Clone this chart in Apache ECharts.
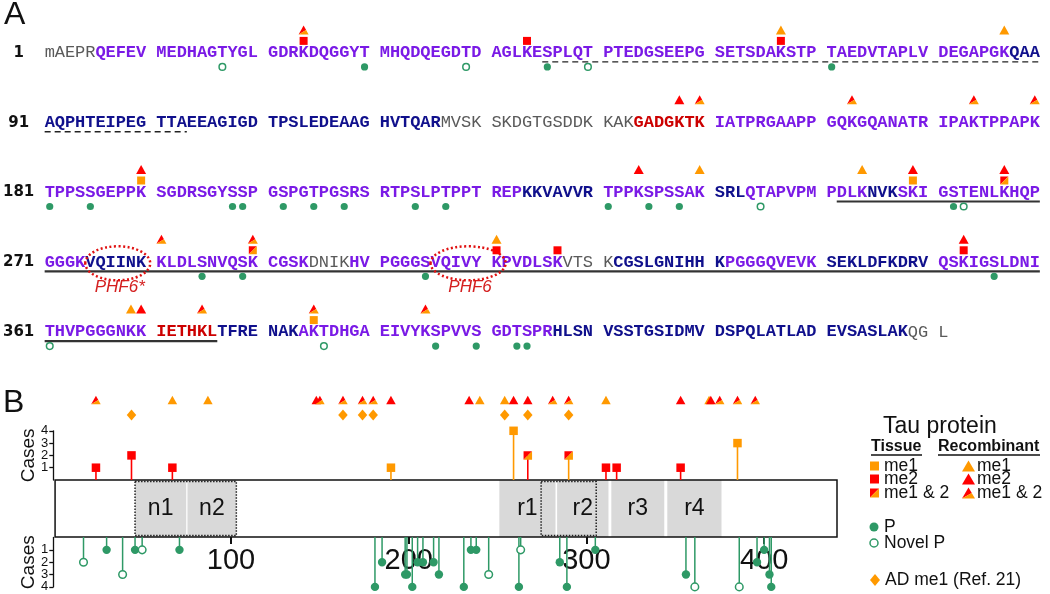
<!DOCTYPE html>
<html>
<head>
<meta charset="utf-8">
<script src="https://cdn.jsdelivr.net/npm/echarts@6/dist/echarts.min.js"></script>
<style>
  html, body { margin: 0; padding: 0; background: #fff; }
  #chart { width: 1050px; height: 594px; }
</style>
</head>
<body>
<div id="chart"></div>
<script>
// ---- data ----
const lineStarts = ['1', '91', '181', '271', '361'];
const tauRows = [
  'mAEPRQEFEV MEDHAGTYGL GDRKDQGGYT MHQDQEGDTD AGLKESPLQT PTEDGSEEPG SETSDAKSTP TAEDVTAPLV DEGAPGKQAA',
  'AQPHTEIPEG TTAEEAGIGD TPSLEDEAAG HVTQARMVSK SKDGTGSDDK KAKGADGKTK IATPRGAAPP GQKGQANATR IPAKTPPAPK',
  'TPPSSGEPPK SGDRSGYSSP GSPGTPGSRS RTPSLPTPPT REPKKVAVVR TPPKSPSSAK SRLQTAPVPM PDLKNVKSKI GSTENLKHQP',
  'GGGKVQIINK KLDLSNVQSK CGSKDNIKHV PGGGSVQIVY KPVDLSKVTS KCGSLGNIHH KPGGGQVEVK SEKLDFKDRV QSKIGSLDNI',
  'THVPGGGNKK IETHKLTFRE NAKAKTDHGA EIVYKSPVVS GDTSPRHLSN VSSTGSIDMV DSPQLATLAD EVSASLAKQG L'
];
const tauSequence = tauRows.join('').replace(/ /g, '');

// residue colour runs (everything else purple)
const grayRuns = [[1, 5], [127, 143], [295, 298], [318, 321], [439, 441]];
const navyRuns = [[88, 126], [224, 230], [241, 243], [255, 257], [275, 280], [322, 331], [341, 350], [377, 383], [407, 438]];
const redRuns = [[144, 150], [371, 376]];
const dashedRuns = [[46, 103]];
const solidRuns = [[252, 376]];
const motifNames = ['PHF6*', 'PHF6'];
const motifFrom = [275, 306];
const motifTo = [280, 311];

// tissue methylation (lollipops above)
const tissueSites = [24, 44, 67, 190, 259, 267, 290, 311, 317, 353, 385];
const tissueTypes = ['me2', 'me2', 'me2', 'me1', 'me1', 'both', 'both', 'me2', 'me2', 'me2', 'me1'];
const tissueStemTypes = ['me2', 'me2', 'me2', 'me1', 'me1', 'me2', 'me1', 'me2', 'me2', 'me2', 'me1'];
const tissueCases = [1, 2, 1, 1, 4, 2, 2, 1, 1, 1, 3];

// recombinant methylation (triangles)
const recombSites = [24, 67, 87, 148, 150, 163, 174, 180, 190, 234, 240, 254, 259, 267, 281, 290, 311, 353, 369, 370, 375, 385, 395];
const recombTypes = ['both', 'me1', 'me1', 'me2', 'both', 'both', 'both', 'both', 'me2', 'me2', 'me1', 'me1', 'me2', 'me2',
  'both', 'both', 'me1', 'me2', 'me1', 'me2', 'both', 'both', 'both'];

// AD me1 (Ref. 21)
const adSites = [44, 163, 174, 180, 254, 267, 290];

// phosphorylation (lollipops below)
const phosphoSites = [17, 30, 39, 46, 50, 71, 181, 185, 198, 199, 202, 205, 208, 214, 217, 231, 235, 238, 245,
  262, 263, 285, 289, 305, 356, 361, 386, 396, 400, 403, 404];
const phosphoCases = [2, 1, 3, 1, 1, 1, 4, 2, 3, 3, 4, 2, 2, 2, 3, 4, 1, 1, 3, 4, 1, 2, 4, 1, 3, 4, 4, 2, 1, 3, 4];
const phosphoNovel = [17, 39, 50, 245, 263, 361, 386];

// domains in panel B
const domainNames = ['n1', 'n2', 'r1', 'r2', 'r3', 'r4'];
const domainStart = [46, 75.5, 251, 283.5, 314, 345.5];
const domainEnd = [74.8, 103, 282.6, 312.4, 343.8, 376];
const splicedStart = [46, 274.5];
const splicedEnd = [103, 305.5];
const proteinLength = 441;
const residueTicks = [100, 200, 300, 400];
const caseTicks = [1, 2, 3, 4];

// ---- helpers ----
const C = { orange: '#ff9900', red: '#ff0000', green: '#2e9966' };
const textColors = { purple: '#7a1ae6', navy: '#10108c', red: '#cc0000', gray: '#5a5a5a' };

const inRuns = (r, runs) => runs.some(([a, b]) => r >= a && r <= b);
function residueClass(r) {
  if (inRuns(r, grayRuns)) return 'gray';
  if (inRuns(r, redRuns)) return 'red';
  if (inRuns(r, navyRuns)) return 'navy';
  return 'purple';
}
const rowOf = r => Math.floor((r - 1) / 90);
function slotOf(r) {
  const col = (r - 1) % 90;
  return Math.floor(col / 10) * 11 + col % 10;
}
function rowSegments(from, to) {
  const segs = [];
  for (let row = rowOf(from); row <= rowOf(to); row++) {
    const a = Math.max(from, row * 90 + 1), b = Math.min(to, row * 90 + 90);
    segs.push([slotOf(a), slotOf(b) + 1, row]);
  }
  return segs;
}

const poly = (pts, fill) => ({ type: 'polygon', shape: { points: pts }, style: { fill: fill } });
function squareEls(type, x, y, s) {
  const h = s / 2;
  if (type === 'both') {
    return [poly([[x - h, y - h], [x + h, y - h], [x - h, y + h]], C.red),
            poly([[x + h, y - h], [x + h, y + h], [x - h, y + h]], C.orange)];
  }
  return [{ type: 'rect', shape: { x: x - h, y: y - h, width: s, height: s }, style: { fill: type === 'me1' ? C.orange : C.red } }];
}
function triangleEls(type, x, y, w, h) {
  const top = [x, y - h / 2], bl = [x - w / 2, y + h / 2], br = [x + w / 2, y + h / 2];
  if (type === 'both') {
    const mid = [x + w / 4, y];
    return [poly([top, bl, mid], C.red), poly([bl, br, mid], C.orange)];
  }
  return [poly([top, bl, br], type === 'me1' ? C.orange : C.red)];
}
const diamondEls = (x, y, w, h) => [poly([[x, y - h / 2], [x + w / 2, y], [x, y + h / 2], [x - w / 2, y]], C.orange)];
function dotEls(open, x, y, r) {
  return [{ type: 'circle', shape: { cx: x, cy: y, r: r },
    style: open ? { fill: '#fff', stroke: C.green, lineWidth: 1.5 } : { fill: C.green } }];
}

// marks for the sequence panel
const seqMarks = [];
tissueSites.forEach((r, i) => seqMarks.push({ r, kind: 'sq', type: tissueTypes[i], dy: -12 }));
recombSites.forEach((r, i) => seqMarks.push({ r, kind: 'tri', type: recombTypes[i], dy: -23 }));
phosphoSites.forEach(r => seqMarks.push({ r, kind: 'dot', open: phosphoNovel.includes(r), dy: 14 }));

const underlineSegs = [];
dashedRuns.forEach(([a, b]) => rowSegments(a, b).forEach(s => underlineSegs.push(s.concat(1))));
solidRuns.forEach(([a, b]) => rowSegments(a, b).forEach(s => underlineSegs.push(s.concat(0))));

// ---- chart ----
const chart = echarts.init(document.getElementById('chart'));
const FONT = '"Liberation Sans", Arial, sans-serif';
const gridB = { left: 53.3, width: 783.7 };
const caseAxis = (grid, inverse) => ({
  gridIndex: grid, type: 'value', min: 0, max: 4, interval: 1, inverse: inverse,
  axisLine: { show: true, lineStyle: { color: '#111', width: 1.3 } },
  axisTick: { show: true, length: 4, customValues: caseTicks, lineStyle: { color: '#111', width: 1.3 } },
  axisLabel: { show: false },
  splitLine: { show: false },
  name: 'Cases', nameLocation: 'middle', nameRotate: 90, nameGap: 15,
  nameTextStyle: { fontSize: 19, fontFamily: FONT, color: '#111' }
});
// the case numbers sit 12px apart, too tight for axisLabel (it drops some), so a tiny series writes them
const caseLabels = grid => ({
  type: 'custom', xAxisIndex: grid, yAxisIndex: grid, silent: true, clip: false,
  data: caseTicks.map(v => [0, v]),
  renderItem: (params, api) => {
    const p = api.coord([api.value(0), api.value(1)]);
    return { type: 'text', x: p[0] - 5, y: p[1],
      style: { text: String(api.value(1)), font: '13px ' + FONT, fill: '#111', align: 'right', verticalAlign: 'middle' } };
  }
});
const hiddenX = (grid, max) => ({ gridIndex: grid, type: 'value', min: 0, max: max, show: false });

const legend = [];
legend.push({ type: 'text', x: 883, y: 427, style: { text: 'Tau protein', font: '23px ' + FONT, fill: '#111', verticalAlign: 'middle' } });
legend.push({ type: 'text', x: 871, y: 447, style: { text: 'Tissue', font: 'bold 16px ' + FONT, fill: '#111', verticalAlign: 'middle' } });
legend.push({ type: 'text', x: 938, y: 447, style: { text: 'Recombinant', font: 'bold 16px ' + FONT, fill: '#111', verticalAlign: 'middle' } });
legend.push({ type: 'line', shape: { x1: 871, y1: 455, x2: 922, y2: 455 }, style: { stroke: '#111', lineWidth: 1.5 } });
legend.push({ type: 'line', shape: { x1: 938, y1: 455, x2: 1040, y2: 455 }, style: { stroke: '#111', lineWidth: 1.5 } });
[['me1', 'me1', 466], ['me2', 'me2', 479], ['both', 'me1 & 2', 493]].forEach(([t, label, y]) => {
  squareEls(t, 874.5, y, 9).forEach(e => legend.push(e));
  triangleEls(t, 968.5, y, 13, 11).forEach(e => legend.push(e));
  legend.push({ type: 'text', x: 884, y: y, style: { text: label, font: '17.5px ' + FONT, fill: '#111', verticalAlign: 'middle' } });
  legend.push({ type: 'text', x: 977, y: y, style: { text: label, font: '17.5px ' + FONT, fill: '#111', verticalAlign: 'middle' } });
});
dotEls(false, 874, 527, 4.5).forEach(e => legend.push(e));
dotEls(true, 874, 543, 4).forEach(e => legend.push(e));
diamondEls(875, 580, 10, 12).forEach(e => legend.push(e));
legend.push({ type: 'text', x: 884, y: 527, style: { text: 'P', font: '17.5px ' + FONT, fill: '#111', verticalAlign: 'middle' } });
legend.push({ type: 'text', x: 884, y: 543, style: { text: 'Novel P', font: '17.5px ' + FONT, fill: '#111', verticalAlign: 'middle' } });
legend.push({ type: 'text', x: 885, y: 580, style: { text: 'AD me1 (Ref. 21)', font: '17.5px ' + FONT, fill: '#111', verticalAlign: 'middle' } });
legend.push({ type: 'text', x: 4, y: 15, style: { text: 'A', font: '32px ' + FONT, fill: '#111', verticalAlign: 'middle' } });
legend.push({ type: 'text', x: 3, y: 403, style: { text: 'B', font: '32px ' + FONT, fill: '#111', verticalAlign: 'middle' } });

const option = {
  animation: false,
  grid: [
    { left: 43, top: 18, width: 1013, height: 349 },                 // A: sequence
    { left: gridB.left, width: gridB.width, top: 430.8, height: 49.2 }, // tissue cases
    { left: gridB.left, width: gridB.width, top: 480, height: 57 },     // protein box
    { left: gridB.left, width: gridB.width, top: 537.5, height: 49.4 }, // phospho cases
    { left: gridB.left, width: gridB.width, top: 400, height: 15 }      // recombinant / AD rows
  ],
  xAxis: [
    hiddenX(0, 99),
    hiddenX(1, proteinLength),
    {
      gridIndex: 2, type: 'value', min: 0, max: proteinLength, interval: 100,
      axisLine: { show: false }, splitLine: { show: false },
      axisTick: { show: true, customValues: residueTicks, length: 7, lineStyle: { color: '#111', width: 2 } },
      axisLabel: { customValues: residueTicks, margin: 9, fontSize: 29, fontFamily: FONT, color: '#111' }
    },
    hiddenX(3, proteinLength),
    hiddenX(4, proteinLength)
  ],
  yAxis: [
    {
      gridIndex: 0, type: 'category', data: lineStarts, inverse: true,
      axisLine: { show: false }, axisTick: { show: false },
      axisLabel: { margin: 26, align: 'center', fontWeight: 'bold', fontSize: 15, fontFamily: '"DejaVu Sans", sans-serif', color: '#111' }
    },
    caseAxis(1, false),
    { gridIndex: 2, type: 'value', min: 0, max: 1, show: false },
    caseAxis(3, true),
    { gridIndex: 4, type: 'value', min: 0, max: 1, show: false }
  ],
  graphic: { elements: legend },
  series: [
    // sequence letters
    {
      type: 'custom', xAxisIndex: 0, yAxisIndex: 0, silent: true,
      data: tauSequence.split('').map((ch, i) => [slotOf(i + 1) + 0.5, rowOf(i + 1), i + 1]),
      renderItem: (params, api) => {
        const p = api.coord([api.value(0), api.value(1)]);
        const r = api.value(2);
        const cls = residueClass(r);
        return {
          type: 'text', x: p[0], y: p[1],
          style: {
            text: tauSequence[r - 1], fill: textColors[cls],
            font: (cls === 'gray' ? '' : 'bold ') + '17px "Liberation Mono", monospace',
            align: 'center', verticalAlign: 'middle'
          }
        };
      }
    },
    // underlines (dashed: N-terminal inserts, solid: repeats)
    {
      type: 'custom', xAxisIndex: 0, yAxisIndex: 0, silent: true,
      data: underlineSegs,
      renderItem: (params, api) => {
        const a = api.coord([api.value(0), api.value(2)]);
        const b = api.coord([api.value(1), api.value(2)]);
        const dashed = api.value(3) === 1;
        return {
          type: 'line', shape: { x1: a[0], y1: a[1] + 9, x2: b[0], y2: b[1] + 9 },
          style: dashed ? { stroke: '#222', lineWidth: 1.4, lineDash: [6, 4] } : { stroke: '#333', lineWidth: 2.2 }
        };
      }
    },
    // PHF6 motifs
    {
      type: 'custom', xAxisIndex: 0, yAxisIndex: 0, silent: true, z: 3,
      data: motifNames.map((n, i) => [slotOf(motifFrom[i]), slotOf(motifTo[i]) + 1, rowOf(motifFrom[i])]),
      renderItem: (params, api) => {
        const a = api.coord([api.value(0), api.value(2)]);
        const b = api.coord([api.value(1), api.value(2)]);
        const cx = (a[0] + b[0]) / 2 + 2, cy = a[1] + 1;
        return {
          type: 'group', children: [
            { type: 'ellipse', shape: { cx: cx, cy: cy, rx: (b[0] - a[0]) / 2 + 2, ry: 17 },
              style: { fill: 'none', stroke: '#e01010', lineWidth: 2.5, lineDash: [2, 2.5] } },
            { type: 'text', x: cx + 2, y: cy + 24,
              style: { text: motifNames[params.dataIndex], font: 'italic 17px ' + FONT, fill: '#d42020', align: 'center', verticalAlign: 'middle' } }
          ]
        };
      }
    },
    // marks around the sequence
    {
      type: 'custom', xAxisIndex: 0, yAxisIndex: 0, silent: true, z: 4,
      data: seqMarks.map(m => [slotOf(m.r) + 0.5, rowOf(m.r)]),
      renderItem: (params, api) => {
        const m = seqMarks[params.dataIndex];
        const p = api.coord([api.value(0), api.value(1)]);
        const x = p[0], y = p[1] + m.dy;
        let els;
        if (m.kind === 'sq') els = squareEls(m.type, x, y, 8);
        else if (m.kind === 'tri') els = triangleEls(m.type, x, y, 10, 9);
        else els = dotEls(m.open, x, y, m.open ? 3.3 : 3.6);
        return { type: 'group', children: els };
      }
    },
    // protein domains
    {
      type: 'custom', xAxisIndex: 2, yAxisIndex: 2, silent: true,
      data: domainNames.map((n, i) => [domainStart[i], domainEnd[i]]),
      renderItem: (params, api) => {
        const a = api.coord([api.value(0), 1]);
        const b = api.coord([api.value(1), 0]);
        return {
          type: 'group', children: [
            { type: 'rect', shape: { x: a[0], y: a[1], width: b[0] - a[0], height: b[1] - a[1] }, style: { fill: '#d9d9d9' } },
            { type: 'text', x: (a[0] + b[0]) / 2, y: (a[1] + b[1]) / 2,
              style: { text: domainNames[params.dataIndex], font: '23px ' + FONT, fill: '#111', align: 'center', verticalAlign: 'middle' } }
          ]
        };
      }
    },
    // alternatively spliced regions (dotted)
    {
      type: 'custom', xAxisIndex: 2, yAxisIndex: 2, silent: true,
      data: splicedStart.map((s, i) => [s, splicedEnd[i]]),
      renderItem: (params, api) => {
        const a = api.coord([api.value(0), 1]);
        const b = api.coord([api.value(1), 0]);
        return { type: 'rect', shape: { x: a[0], y: a[1] + 1.5, width: b[0] - a[0], height: b[1] - a[1] - 3 },
          style: { fill: 'none', stroke: '#222', lineWidth: 1.5, lineDash: [1.5, 1.5] } };
      }
    },
    // protein outline
    {
      type: 'custom', xAxisIndex: 2, yAxisIndex: 2, silent: true,
      data: [[1, proteinLength]],
      renderItem: (params, api) => {
        const a = api.coord([api.value(0), 1]);
        const b = api.coord([api.value(1), 0]);
        return { type: 'rect', shape: { x: a[0], y: a[1], width: b[0] - a[0], height: b[1] - a[1] },
          style: { fill: 'none', stroke: '#111', lineWidth: 1.5 } };
      }
    },
    caseLabels(1),
    caseLabels(3),
    // tissue methylation lollipops
    {
      type: 'custom', xAxisIndex: 1, yAxisIndex: 1, silent: true, clip: false,
      data: tissueSites.map((r, i) => [r, tissueCases[i]]),
      renderItem: (params, api) => {
        const i = params.dataIndex;
        const base = api.coord([api.value(0), 0]);
        const top = api.coord([api.value(0), api.value(1)]);
        const stem = tissueStemTypes[i] === 'me1' ? C.orange : C.red;
        return {
          type: 'group', children: [
            { type: 'line', shape: { x1: base[0], y1: base[1], x2: top[0], y2: top[1] }, style: { stroke: stem, lineWidth: 1.6 } }
          ].concat(squareEls(tissueTypes[i], top[0], top[1], 8.5))
        };
      }
    },
    // recombinant triangles
    {
      type: 'custom', xAxisIndex: 4, yAxisIndex: 4, silent: true, clip: false,
      data: recombSites.map(r => [r, 1]),
      renderItem: (params, api) => {
        const p = api.coord([api.value(0), api.value(1)]);
        return { type: 'group', children: triangleEls(recombTypes[params.dataIndex], p[0], p[1], 9.5, 8.5) };
      }
    },
    // AD me1 diamonds
    {
      type: 'custom', xAxisIndex: 4, yAxisIndex: 4, silent: true, clip: false,
      data: adSites.map(r => [r, 0]),
      renderItem: (params, api) => {
        const p = api.coord([api.value(0), api.value(1)]);
        return { type: 'group', children: diamondEls(p[0], p[1], 9.5, 11) };
      }
    },
    // phosphorylation lollipops
    {
      type: 'custom', xAxisIndex: 3, yAxisIndex: 3, silent: true, clip: false, z: 5,
      data: phosphoSites.map((r, i) => [r, phosphoCases[i]]),
      renderItem: (params, api) => {
        const r = api.value(0);
        const base = api.coord([r, 0]);
        const end = api.coord([r, api.value(1)]);
        const open = phosphoNovel.includes(r);
        return {
          type: 'group', children: [
            { type: 'line', shape: { x1: base[0], y1: base[1] - 0.5, x2: end[0], y2: end[1] }, style: { stroke: C.green, lineWidth: 1.5 } }
          ].concat(dotEls(open, end[0], end[1], open ? 3.8 : 4.2))
        };
      }
    }
  ]
};
chart.setOption(option);
</script>
</body>
</html>
